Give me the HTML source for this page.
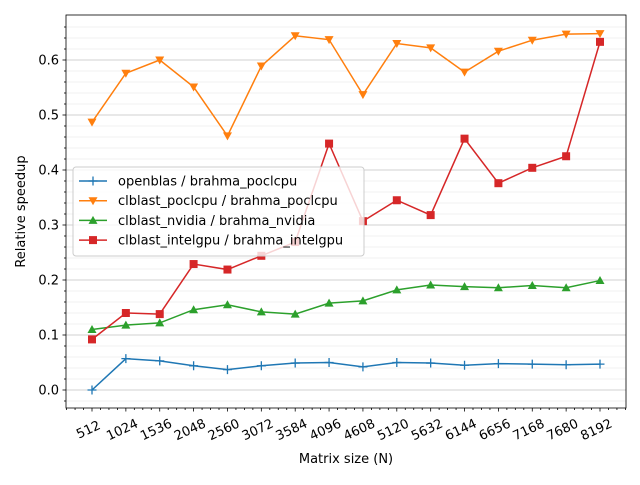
<!DOCTYPE html>
<html><head><meta charset="utf-8"><style>
body{margin:0;background:#fff;}
svg{font-family:"DejaVu Sans","Liberation Sans",sans-serif;}
</style></head><body>
<svg id="chart" width="640" height="480" viewBox="0 0 640 480" xmlns="http://www.w3.org/2000/svg">
<g id="grid"></g><g id="axes"></g><g id="series"></g><g id="legend"></g>
</svg>
<script>
const categories=[512,1024,1536,2048,2560,3072,3584,4096,4608,5120,5632,6144,6656,7168,7680,8192];
const openblas=[0.0,0.057,0.053,0.044,0.037,0.044,0.049,0.050,0.042,0.050,0.049,0.045,0.048,0.047,0.046,0.047];
const poclcpu=[0.487,0.576,0.600,0.551,0.462,0.589,0.644,0.637,0.537,0.630,0.622,0.578,0.616,0.636,0.647,0.648];
const nvidia=[0.110,0.118,0.122,0.146,0.155,0.142,0.138,0.158,0.162,0.182,0.191,0.188,0.186,0.190,0.186,0.199];
const intelgpu=[0.092,0.140,0.138,0.229,0.219,0.244,0.269,0.448,0.307,0.345,0.318,0.457,0.376,0.404,0.425,0.633];
const yTicks=[0.0,0.1,0.2,0.3,0.4,0.5,0.6];
const NS="http://www.w3.org/2000/svg";
const L=66,R=626,T=15,B=408;
const xs=v=>92+(v-512)*(508/7680);
const ys=v=>390-550*v;
function mk(p,tag,a){const e=document.createElementNS(NS,tag);for(const k in a)e.setAttribute(k,a[k]);p.appendChild(e);return e;}
const grid=document.getElementById('grid'),axes=document.getElementById('axes'),ser=document.getElementById('series'),leg=document.getElementById('legend');
for(let v=-0.02;v<=0.68;v+=0.02){const y=ys(v);if(y<T||y>B)continue;
 const isMaj=Math.abs(v*10-Math.round(v*10))<1e-6;
 const g=mk(grid,'line',{x1:L,x2:R,y1:y,y2:y,stroke:isMaj?'#d0d0d0':'#ececec','stroke-width':isMaj?1:0.8});
 
 
 mk(axes,'line',{x1:L-(isMaj?3.5:2),x2:L,y1:y,y2:y,stroke:'#000','stroke-width':0.8});}
yTicks.forEach(v=>{const t=mk(axes,'text',{x:L-7,y:ys(v)+4.5,'text-anchor':'end','font-size':13});t.textContent=v.toFixed(1);
 
 });
for(let v=512-384;v<=8192+384;v+=128){const x=xs(v);if(x<L||x>R)continue;
 const maj=categories.includes(v);mk(axes,'line',{x1:x,x2:x,y1:B,y2:B+(maj?3.5:2),stroke:'#000','stroke-width':0.8});}
categories.forEach(c=>{const x=xs(c)-4;const y=B+26;const t=mk(axes,'text',{x:x,y:y,'text-anchor':'middle','font-size':13,transform:`rotate(-25 ${x} ${y-5})`});t.textContent=c;
 
 });
const fr=mk(axes,'rect',{x:L,y:T,width:R-L,height:B-T,fill:'none',stroke:'#000','stroke-width':0.8});


let t=mk(axes,'text',{x:(L+R)/2,y:463,'text-anchor':'middle','font-size':13});t.textContent='Matrix size (N)';


t=mk(axes,'text',{x:25,y:(T+B)/2,'text-anchor':'middle','font-size':13,transform:`rotate(-90 25 ${(T+B)/2})`});t.textContent='Relative speedup';


function marker(g,m,x,y,c){
 if(m==='plus'){mk(g,'path',{d:`M${x-4.5},${y}H${x+4.5}M${x},${y-4.5}V${y+4.5}`,stroke:c,'stroke-width':1.3});}
 else if(m==='tri-down'){mk(g,'path',{d:`M${x-4.5},${y-3.5}L${x+4.5},${y-3.5}L${x},${y+4.5}Z`,fill:c});}
 else if(m==='tri-up'){mk(g,'path',{d:`M${x-4.5},${y+3.5}L${x+4.5},${y+3.5}L${x},${y-4.5}Z`,fill:c});}
 else mk(g,'rect',{x:x-4,y:y-4,width:8,height:8,fill:c});}
const series=[["openblas / brahma_poclcpu",openblas,'#1f77b4','plus'],["clblast_poclcpu / brahma_poclcpu",poclcpu,'#ff7f0e','tri-down'],["clblast_nvidia / brahma_nvidia",nvidia,'#2ca02c','tri-up'],["clblast_intelgpu / brahma_intelgpu",intelgpu,'#d62728','square']];
series.forEach((s,i)=>{const g=mk(ser,'g',{});
 
 
 mk(g,'polyline',{points:s[1].map((v,j)=>xs(categories[j])+','+ys(v)).join(' '),fill:'none',stroke:s[2],'stroke-width':1.5});
 s[1].forEach((v,j)=>marker(g,s[3],xs(categories[j]),ys(v),s[2]));});
const lb=mk(leg,'rect',{x:73,y:167,width:291,height:89,rx:3,fill:'#fff','fill-opacity':0.8,stroke:'#ccc'});


series.forEach((s,i)=>{const y=181+i*19.7;const g=mk(leg,'g',{});
 
 
 mk(g,'line',{x1:79,x2:107,y1:y,y2:y,stroke:s[2],'stroke-width':1.5});marker(g,s[3],93,y,s[2]);
 const tt=mk(g,'text',{x:118,y:y+4.5,'font-size':13});tt.textContent=s[0];});
</script>
</body></html>
